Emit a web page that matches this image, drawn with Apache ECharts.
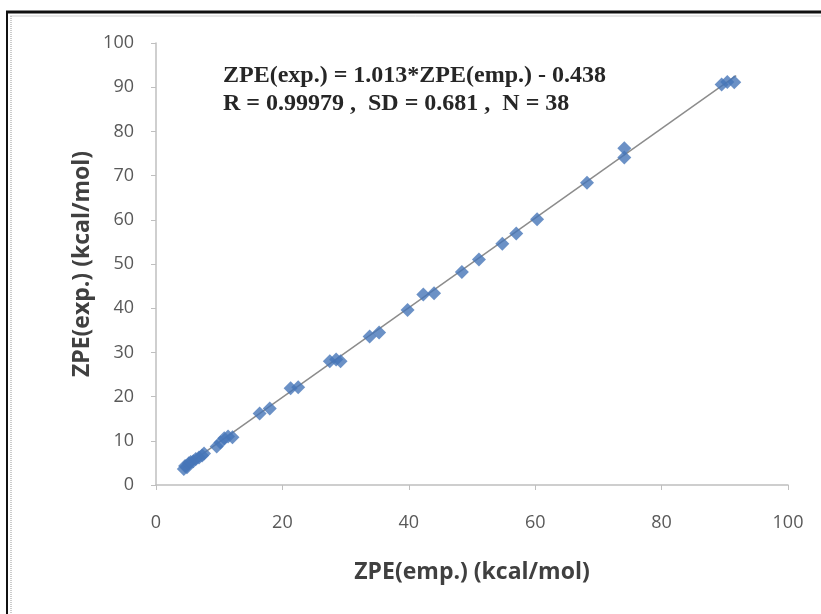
<!DOCTYPE html>
<html>
<head>
<meta charset="utf-8">
<script src="https://cdn.jsdelivr.net/npm/echarts@6/dist/echarts.min.js"></script>
<style>
  html, body { margin: 0; padding: 0; background: #fff; }
  #chart { width: 821px; height: 614px; }
</style>
</head>
<body>
<div id="chart"></div>
<script>
// ZPE(emp.) vs ZPE(exp.)
const zpeEmp = [4.4, 4.6, 4.9, 5.2, 5.5, 5.9, 6.3, 6.8, 7.3, 7.6,
                9.6, 10.2, 10.8, 11.4, 12.1,
                16.4, 18.0, 21.3, 22.5, 27.5, 28.5, 29.2, 33.8, 35.3,
                39.8, 42.3, 44.0, 48.4, 51.1, 54.8, 57.0, 60.3, 68.2,
                74.1, 74.1, 89.5, 90.4, 91.5];
const zpeExp = [3.6, 4.3, 4.0, 4.9, 5.2, 5.4, 5.9, 6.2, 6.7, 7.1,
                8.7, 9.6, 10.6, 11.0, 10.8,
                16.2, 17.3, 21.9, 22.1, 28.0, 28.4, 28.0, 33.6, 34.5,
                39.6, 43.1, 43.4, 48.2, 51.0, 54.6, 56.9, 60.1, 68.4,
                74.1, 76.2, 90.6, 91.2, 91.1];

// fitted line end points
const fitX = [4.2, 91.8];
const fitY = [3.8, 92.6];

const fitText = [
    'ZPE(exp.) = 1.013*ZPE(emp.) - 0.438',
    'R = 0.99979 ,  SD = 0.681 ,  N = 38'
];

const xTicks = { min: 0, max: 100, interval: 20 };
const yTicks = { min: 0, max: 100, interval: 10 };

const chart = echarts.init(document.getElementById('chart'));

const axisGray = '#bfbfbf';
const labelGray = '#595959';

chart.setOption({
    backgroundColor: '#fff',
    animation: false,
    grid: { left: 156, right: 33, top: 43, bottom: 129 },
    xAxis: {
        type: 'value',
        min: xTicks.min, max: xTicks.max, interval: xTicks.interval,
        name: 'ZPE(emp.) (kcal/mol)',
        nameLocation: 'middle',
        nameGap: 76,
        nameMoveOverlap: false,
        nameTextStyle: { fontFamily: 'Open Sans', fontWeight: 'bold', fontSize: 23, color: '#404040' },
        axisLine: { show: true, lineStyle: { color: axisGray, width: 1.5 } },
        axisTick: { show: true, length: 5, lineStyle: { color: axisGray } },
        axisLabel: { margin: 29, fontFamily: 'Open Sans', fontSize: 18, color: labelGray },
        splitLine: { show: false }
    },
    yAxis: {
        type: 'value',
        min: yTicks.min, max: yTicks.max, interval: yTicks.interval,
        name: 'ZPE(exp.) (kcal/mol)',
        nameLocation: 'middle',
        nameGap: 62,
        nameMoveOverlap: false,
        nameTextStyle: { fontFamily: 'Open Sans', fontWeight: 'bold', fontSize: 23, color: '#404040' },
        axisLine: { show: true, lineStyle: { color: axisGray, width: 1.5 } },
        axisTick: { show: true, length: 5, lineStyle: { color: axisGray } },
        axisLabel: { margin: 22, fontFamily: 'Open Sans', fontSize: 18, color: labelGray },
        splitLine: { show: false }
    },
    series: [
        {
            name: 'fit',
            type: 'line',
            data: fitX.map((x, i) => [x, fitY[i]]),
            symbol: 'none',
            lineStyle: { color: '#8c8c8c', width: 1.5 },
            z: 1
        },
        {
            name: 'ZPE',
            type: 'scatter',
            data: zpeEmp.map((x, i) => [x, zpeExp[i]]),
            symbol: 'diamond',
            symbolSize: [14, 14],
            itemStyle: { color: '#4676b8' },
            z: 2
        }
    ],
    graphic: [
        // frame round the picture
        { type: 'line', shape: { x1: 6, y1: 12, x2: 821, y2: 12 }, style: { stroke: '#111', lineWidth: 3 } },
        { type: 'line', shape: { x1: 7, y1: 12, x2: 7, y2: 614 }, style: { stroke: '#111', lineWidth: 2 } },
        { type: 'line', shape: { x1: 10, y1: 16, x2: 821, y2: 16 }, style: { stroke: '#d0d0d0', lineWidth: 1 } },
        { type: 'line', shape: { x1: 11, y1: 16, x2: 11, y2: 614 }, style: { stroke: '#999', lineWidth: 1, lineDash: [1, 1] } },
        {
            type: 'text', left: 223, top: 62,
            style: {
                text: fitText.join('\n'),
                font: 'bold 24px "Liberation Serif", serif',
                lineHeight: 28,
                fill: '#262626'
            }
        }
    ]
});
</script>
</body>
</html>
